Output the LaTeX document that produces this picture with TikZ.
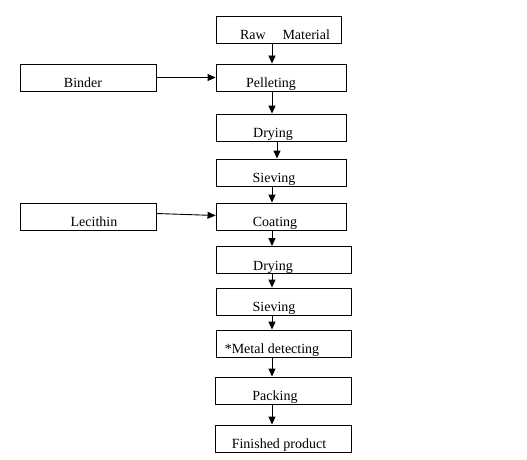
\documentclass[tikz,border=0pt]{standalone}
\usepackage{fontspec}
\setmainfont{Liberation Serif}
\usetikzlibrary{arrows.meta,calc}

\begin{document}
\begin{tikzpicture}[x=1pt,y=-1pt,
    stepbox/.style={rectangle,draw,line width=0.9pt,inner sep=0pt,minimum height=27pt,
      text height=20pt,text depth=0pt,font=\fontsize{14}{16}\selectfont},
    tx/.style={execute at begin node={\hspace*{#1}},execute at end node={\hspace*{-#1}}},
    >={Triangle[length=8pt,width=7pt]}]
  \useasboundingbox (0,0) rectangle (527,460);
  \begin{scope}[line width=0.9pt]
    \coordinate (ax) at (272,0);
    \node (raw) at (278.5,29.5) [stepbox,minimum width=125pt,tx=6.5pt]{Raw\hspace{1.2em}Material};
    \node (pel) at (281,77.5) [stepbox,minimum width=130pt,tx=-10pt]{Pelleting};
    \node (bin) at (88,77.5) [stepbox,minimum width=136pt,tx=-5pt]{Binder};
    \node (dry1) at (281,127.5) [stepbox,minimum width=130pt,tx=-8pt]{Drying};
    \node (sie1) at (281,172.5) [stepbox,minimum width=130pt,tx=-7pt]{Sieving};
    \node (lec) at (88,216.5) [stepbox,minimum width=136pt,tx=6pt]{Lecithin};
    \node (coat) at (281,216.5) [stepbox,minimum width=130pt,tx=-6pt]{Coating};
    \node (dry2) at (283.5,260) [stepbox,minimum width=135pt,tx=-10.5pt]{Drying};
    \node (sie2) at (283.5,301.5) [stepbox,minimum width=135pt,tx=-9.5pt]{Sieving};
    \node (metal) at (283.5,343.5) [stepbox,minimum width=135pt,tx=-11.5pt]{*Metal detecting};
    \node (pack) at (283,390.5) [stepbox,minimum width=136pt,tx=-8pt]{Packing};
    \node (fin) at (283,438.5) [stepbox,minimum width=136pt,tx=-4pt]{Finished product};

    \draw[->] (raw.south -| ax) -- (pel.north -| ax);
    \draw[->] (bin.east) -- (pel.west);
    \draw[->] (pel.south -| ax) -- (dry1.north -| ax);
    \draw[->] ([xshift=5pt]dry1.south -| ax) -- ([xshift=5pt]sie1.north -| ax);
    \draw[->] (sie1.south -| ax) -- (coat.north -| ax);
    \draw[->] ([yshift=3pt]lec.east) -- ([yshift=1pt]coat.west);
    \draw[->] (coat.south -| ax) -- (dry2.north -| ax);
    \draw[->] (dry2.south -| ax) -- (sie2.north -| ax);
    \draw[->] (sie2.south -| ax) -- (metal.north -| ax);
    \draw[->] (metal.south -| ax) -- (pack.north -| ax);
    \draw[->] (pack.south -| ax) -- (fin.north -| ax);
  \end{scope}
\end{tikzpicture}
\end{document}
